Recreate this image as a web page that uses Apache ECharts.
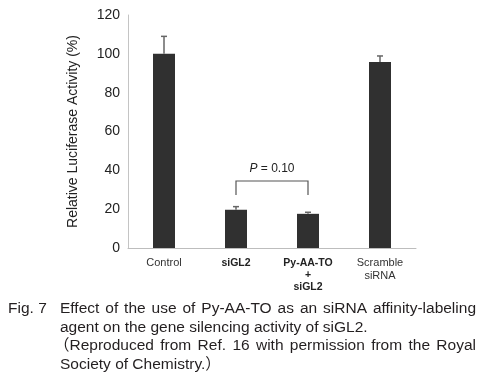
<!DOCTYPE html>
<html lang="en">
<head>
    <meta charset="UTF-8" />
    <title>Fig. 7 siGL2</title>
    <script src="https://cdn.jsdelivr.net/npm/echarts@6/dist/echarts.min.js"></script>
</head>
<style>
    html, body { margin: 0; padding: 0; background: #fff; }
    #main { width: 492px; height: 376px; }
</style>
<body>
    <div id="main"></div>
</body>
<script type="text/javascript">

    // chart values
    var categories = ['Control', 'siGL2', 'Py-AA-TO\n+\nsiGL2', 'Scramble\nsiRNA'];
    var boldLabels = [false, true, true, false];
    var activity = [100, 19.7, 17.6, 95.8];
    var errorTop = [109, 21.3, 18.4, 98.9];
    var yTicks = [0, 20, 40, 60, 80, 100, 120];

    // significance bracket: from category 1 to 2
    var bracketPair = [1, 2];
    var bracketTop = 34.5;
    var bracketLeg = 27.3;

    var captionLines = [
        'Effect of the use of Py-AA-TO as an siRNA affinity-labeling',
        'agent on the gene silencing activity of siGL2.',
        '\uFF08Reproduced from Ref. 16 with permission from the Royal',
        'Society of Chemistry.\uFF09'
    ];
    var captionJustify = [true, false, true, false];

    var FONT = "'Liberation Sans', Arial, 'Noto Sans CJK JP', sans-serif";
    var TXT = '#231f20';
    var CAP = '15.5px ' + FONT;

    // caption laid out as graphic text, justified lines spread word by word
    var ctx = document.createElement('canvas').getContext('2d');
    ctx.font = CAP;
    var capLeft = 60, capRight = 476, capTop = 310, capStep = 18.5;
    var graphics = [{
        type: 'text', left: 8, top: capTop - 9,
        style: { text: 'Fig. 7', font: CAP, fill: TXT }
    }];
    captionLines.forEach(function (line, i) {
        var y = capTop + i * capStep - 9;
        // the full-width bracket carries its own left bearing
        var x0 = line.charAt(0) === '\uFF08' ? capLeft - 6 : capLeft;
        if (!captionJustify[i]) {
            graphics.push({ type: 'text', left: x0, top: y,
                style: { text: line, font: CAP, fill: TXT } });
            return;
        }
        var words = line.split(' ');
        var total = 0;
        words.forEach(function (w) { total += ctx.measureText(w).width; });
        var gap = (capRight - x0 - total) / (words.length - 1);
        var x = x0;
        words.forEach(function (w) {
            graphics.push({ type: 'text', left: x, top: y,
                style: { text: w, font: CAP, fill: TXT } });
            x += ctx.measureText(w).width + gap;
        });
    });

    var chart = echarts.init(document.getElementById('main'));
    chart.setOption({
        animation: false,
        textStyle: { fontFamily: FONT },
        grid: { left: 128, right: 76, top: 15, bottom: 128 },
        xAxis: {
            type: 'category',
            data: categories,
            axisLine: { lineStyle: { color: '#bdbdbd', width: 1 } },
            axisTick: { show: false },
            axisLabel: {
                interval: 0,
                margin: 9,
                fontSize: 11,
                lineHeight: 12.5,
                color: '#333',
                formatter: function (v, i) {
                    return boldLabels[i] ? v.split('\n').map(function (s) { return '{b|' + s + '}'; }).join('\n') : v;
                },
                rich: { b: { fontSize: 10.5, fontWeight: 'bold', lineHeight: 12, color: '#222' } }
            }
        },
        yAxis: {
            type: 'value',
            min: yTicks[0],
            max: yTicks[yTicks.length - 1],
            interval: 20,
            name: 'Relative Luciferase Activity (%)',
            nameLocation: 'middle',
            nameGap: 48,
            nameTextStyle: { fontSize: 14, color: '#222' },
            axisLine: { show: true, lineStyle: { color: '#c4c4c4', width: 1 } },
            axisTick: { show: false },
            splitLine: { show: false },
            axisLabel: { fontSize: 14, color: '#222', margin: 8 }
        },
        graphic: graphics,
        series: [
            {
                type: 'bar',
                data: activity,
                barWidth: 22,
                itemStyle: { color: '#303030' }
            },
            {
                type: 'custom',
                data: activity.map(function (v, i) { return [i, v, errorTop[i]]; }),
                z: 3,
                renderItem: function (params, api) {
                    var base = api.coord([api.value(0), api.value(1)]);
                    var top = api.coord([api.value(0), api.value(2)]);
                    var style = { stroke: '#666', lineWidth: 1.5 };
                    return {
                        type: 'group',
                        children: [
                            { type: 'line', shape: { x1: base[0], y1: base[1], x2: top[0], y2: top[1] }, style: style },
                            { type: 'line', shape: { x1: top[0] - 3, y1: top[1], x2: top[0] + 3, y2: top[1] }, style: style }
                        ]
                    };
                }
            },
            {
                type: 'custom',
                data: [[bracketPair[0], bracketPair[1], bracketTop, bracketLeg]],
                renderItem: function (params, api) {
                    var a = api.coord([api.value(0), api.value(2)]);
                    var b = api.coord([api.value(1), api.value(2)]);
                    var leg = api.coord([api.value(0), api.value(3)])[1];
                    return {
                        type: 'group',
                        children: [
                            { type: 'polyline', shape: { points: [[a[0], leg], a, b, [b[0], leg]] },
                              style: { stroke: '#555', lineWidth: 1.2, fill: null } },
                            { type: 'text', x: (a[0] + b[0]) / 2, y: a[1] - 12,
                              style: {
                                  text: '{i|P} = 0.10',
                                  rich: { i: { fontStyle: 'italic', fontSize: 12, fontFamily: FONT, fill: '#222' } },
                                  font: '12px ' + FONT, fill: '#222',
                                  align: 'center', verticalAlign: 'middle'
                              } }
                        ]
                    };
                }
            }
        ]
    });
</script>
</html>
